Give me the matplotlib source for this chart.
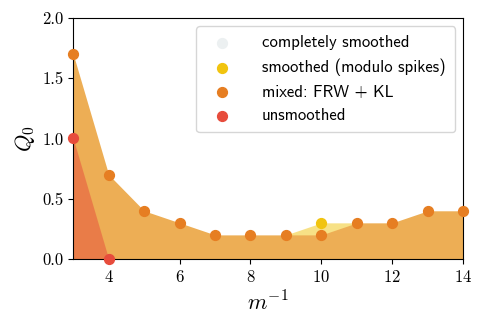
import numpy as np
import matplotlib
matplotlib.use("Agg")
import matplotlib.pyplot as plt

plt.rcParams['mathtext.fontset'] = 'cm'
plt.rcParams['font.family'] = 'cmr10'
plt.rcParams['axes.formatter.use_mathtext'] = True

# data
m_mixed = [3, 4, 5, 6, 7, 8, 9, 10, 11, 12, 13, 14]
q_mixed = [1.7, 0.7, 0.4, 0.3, 0.2, 0.2, 0.2, 0.2, 0.3, 0.3, 0.4, 0.4]
m_smooth = [9, 10, 11]
q_smooth = [0.2, 0.3, 0.3]
m_unsmooth = [3, 4]
q_unsmooth = [1.0, 0.0]

c_gray = '#ECF0F1'
c_yellow = '#F1C40F'
c_orange = '#E67E22'
c_red = '#E74C3C'

fig = plt.figure(figsize=(4.85, 3.27), dpi=100)
ax = fig.add_axes([0.151, 0.208, 0.804, 0.737])

ax.fill_between(m_smooth, 0, q_smooth, color=c_yellow, alpha=0.5, lw=0)
ax.fill_between(m_mixed, 0, q_mixed, color='#EDAE55', lw=0)
ax.fill_between(m_unsmooth, 0, q_unsmooth, color=c_red, alpha=0.5, lw=0)

ms = 50
ax.scatter([], [], color=c_gray, s=ms, label='completely smoothed')
ax.scatter(m_smooth[1:2], q_smooth[1:2], color=c_yellow, s=ms, zorder=3,
           label='smoothed (modulo spikes)')
ax.scatter(m_mixed, q_mixed, color=c_orange, s=ms, zorder=3, clip_on=False,
           label=r'mixed: FRW + KL')
ax.scatter(m_unsmooth, q_unsmooth, color=c_red, s=ms, zorder=4, clip_on=False,
           label='unsmoothed')

ax.set_xlim(3, 14)
ax.set_ylim(0, 2)
ax.set_xticks([4, 6, 8, 10, 12, 14])
ax.set_yticks([0, 0.5, 1.0, 1.5, 2.0])
ax.set_yticklabels(['0.0', '0.5', '1.0', '1.5', '2.0'])
ax.tick_params(labelsize=12)
ax.set_xlabel(r'$m^{-1}$', fontsize=16)
ax.set_ylabel(r'$Q_0$', fontsize=16)

leg = ax.legend(loc='upper right', prop={'family': 'cmss10', 'size': 12},
                handletextpad=1.4, borderpad=0.55, labelspacing=0.5)

fig.savefig('out.png', dpi=100)
